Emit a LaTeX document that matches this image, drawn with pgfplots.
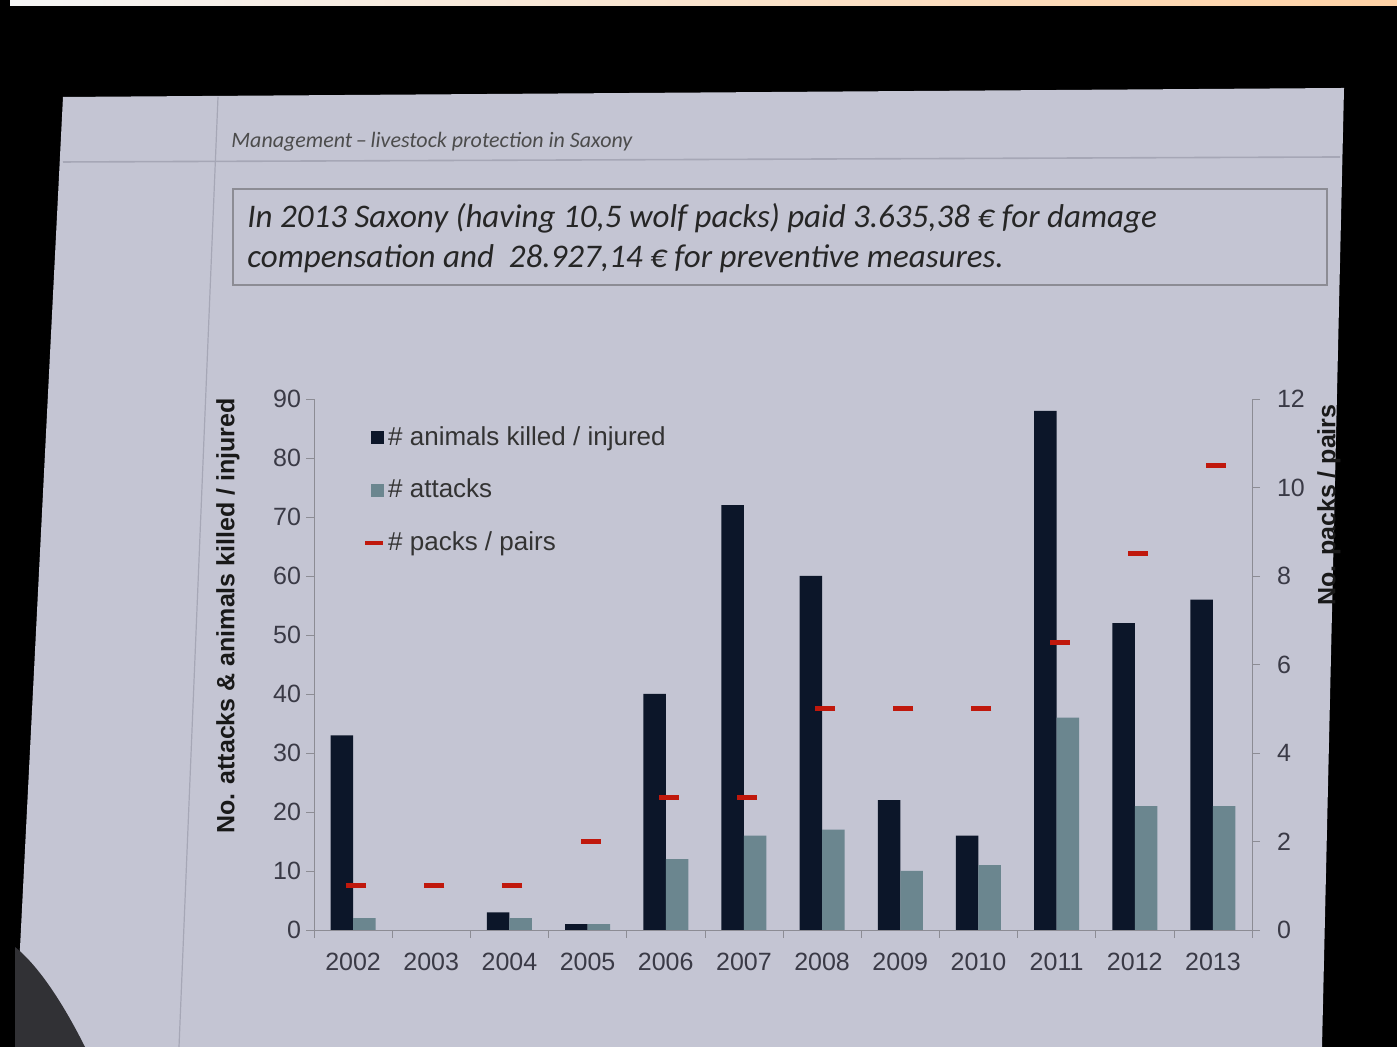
\documentclass[border=0pt]{standalone}
\usepackage{fontspec}
\setmainfont{Liberation Sans}
\newfontfamily\slidefont{Carlito}
\usepackage{pgfplots}
\pgfplotsset{compat=1.18}
\definecolor{slidebg}{HTML}{C4C5D3}
\definecolor{bardark}{HTML}{0C1629}
\definecolor{bargrey}{HTML}{6B868F}
\definecolor{packred}{HTML}{C0180C}
\definecolor{tickc}{HTML}{3A3A46}
\definecolor{axisc}{HTML}{8C8C94}
\definecolor{lineg}{HTML}{A6A7B6}

\pgfplotsset{
  wolfbase/.style={
    scale only axis, width=469pt, height=265.5pt,
    at={(O)}, anchor=south west,
    xmin=-0.5, xmax=11.5,
    tick align=outside, major tick length=4pt,
    axis line style={axisc}, tick style={axisc},
    ticklabel style={font=\fontsize{12.5}{14}\selectfont, text=tickc},
    /pgf/number format/assume math mode=true,
  }
}

\begin{document}
\begin{tikzpicture}[x=0.5pt,y=0.5pt]
\useasboundingbox (0,0) rectangle (1397,1047);
\fill[black] (0,0) rectangle (1397,1047);
\shade[left color=white!92!gray, right color=orange!35] (10,1041) rectangle (1397,1047);
\fill[slidebg] (63,950) -- (1344,959) -- (1322,0) -- (15,0) -- cycle;
\draw[lineg, line width=0.8pt] (63,885) -- (1340,890);
\draw[lineg, line width=0.6pt] (218,950) -- (179,0);
\draw[axisc, line width=0.7pt] (233,858) rectangle (1327,762);
\fill[black!75!slidebg] (15,100) .. controls (40,80) and (65,40) .. (85,0) -- (15,0) -- cycle;

\node[anchor=base west, inner sep=0pt, text=black!70, font=\slidefont\itshape\fontsize{11}{13}\selectfont]
  at (231,899) {Management\,\textendash\,livestock protection in Saxony};
\node[anchor=base west, inner sep=0pt, text=black!85, font=\slidefont\itshape\fontsize{16.5}{19}\selectfont]
  at (247,819) {In 2013 Saxony (having 10,5 wolf packs) paid 3.635,38 € for damage};
\node[anchor=base west, inner sep=0pt, text=black!85, font=\slidefont\itshape\fontsize{16.5}{19}\selectfont]
  at (247,779) {compensation and\ \ 28.927,14 € for preventive measures.};

\coordinate (O) at (314,117);

\begin{axis}[wolfbase,
  ymin=0, ymax=90, ytick={0,10,...,90},
  axis x line*=bottom, axis y line*=left,
  ybar=0pt, bar width=11.25pt,
  xtick={0,...,11}, xticklabels={2002,2003,2004,2005,2006,2007,2008,2009,2010,2011,2012,2013},
  xtick style={draw=none},
  xticklabel style={yshift=-4pt},
  yticklabel style={xshift=1pt},
  extra x ticks={-0.5,0.5,...,11.5}, extra x tick labels={},
  extra x tick style={xtick style={draw=axisc}},
]
% no bars recorded for 2003
\addplot[fill=bardark, draw=none] coordinates {
  (0,33) (2,3) (3,1) (4,40) (5,72) (6,60) (7,22) (8,16) (9,88) (10,52) (11,56)};
\addplot[fill=bargrey, draw=none] coordinates {
  (0,2) (2,2) (3,1) (4,12) (5,16) (6,17) (7,10) (8,11) (9,36) (10,21) (11,21)};
\end{axis}

\begin{axis}[wolfbase,
  ymin=0, ymax=12, ytick={0,2,...,12},
  axis x line=none, axis y line*=right,
  yticklabel style={xshift=5pt},
  legend cell align=left,
  legend style={at={(0.052,0.955)}, anchor=north west, draw=none, fill=none,
    font=\fontsize{13}{15}\selectfont, text=black!80, row sep=12.5pt,
    inner sep=0pt, nodes={inner sep=1.5pt}},
]
\addplot[only marks, mark=-, mark size=5pt, forget plot,
  mark options={packred, line width=2.6pt, xshift=1.5pt}] coordinates {
  (0,1) (1,1) (2,1) (3,2) (4,3) (5,3) (6,5) (7,5) (8,5) (9,6.5) (10,8.5) (11,10.5)};
\addlegendimage{legend image code/.code={\fill[bardark] (0pt,-3pt) rectangle (6pt,3pt);}}
\addlegendentry{\# animals killed / injured}
\addlegendimage{legend image code/.code={\fill[bargrey] (0pt,-3pt) rectangle (6pt,3pt);}}
\addlegendentry{\# attacks}
\addlegendimage{legend image code/.code={\draw[packred, line width=2pt] (-3pt,0pt) -- (6pt,0pt);}}
\addlegendentry{\# packs / pairs}
\end{axis}

\node[rotate=90, font=\bfseries\fontsize{12.5}{14}\selectfont, text=black!90] at (228,431)
  {No. attacks \& animals killed / injured};
\node[rotate=90, font=\bfseries\fontsize{12.5}{14}\selectfont, text=black!90] at (1329,542)
  {No. packs / pairs};
\end{tikzpicture}
\end{document}
